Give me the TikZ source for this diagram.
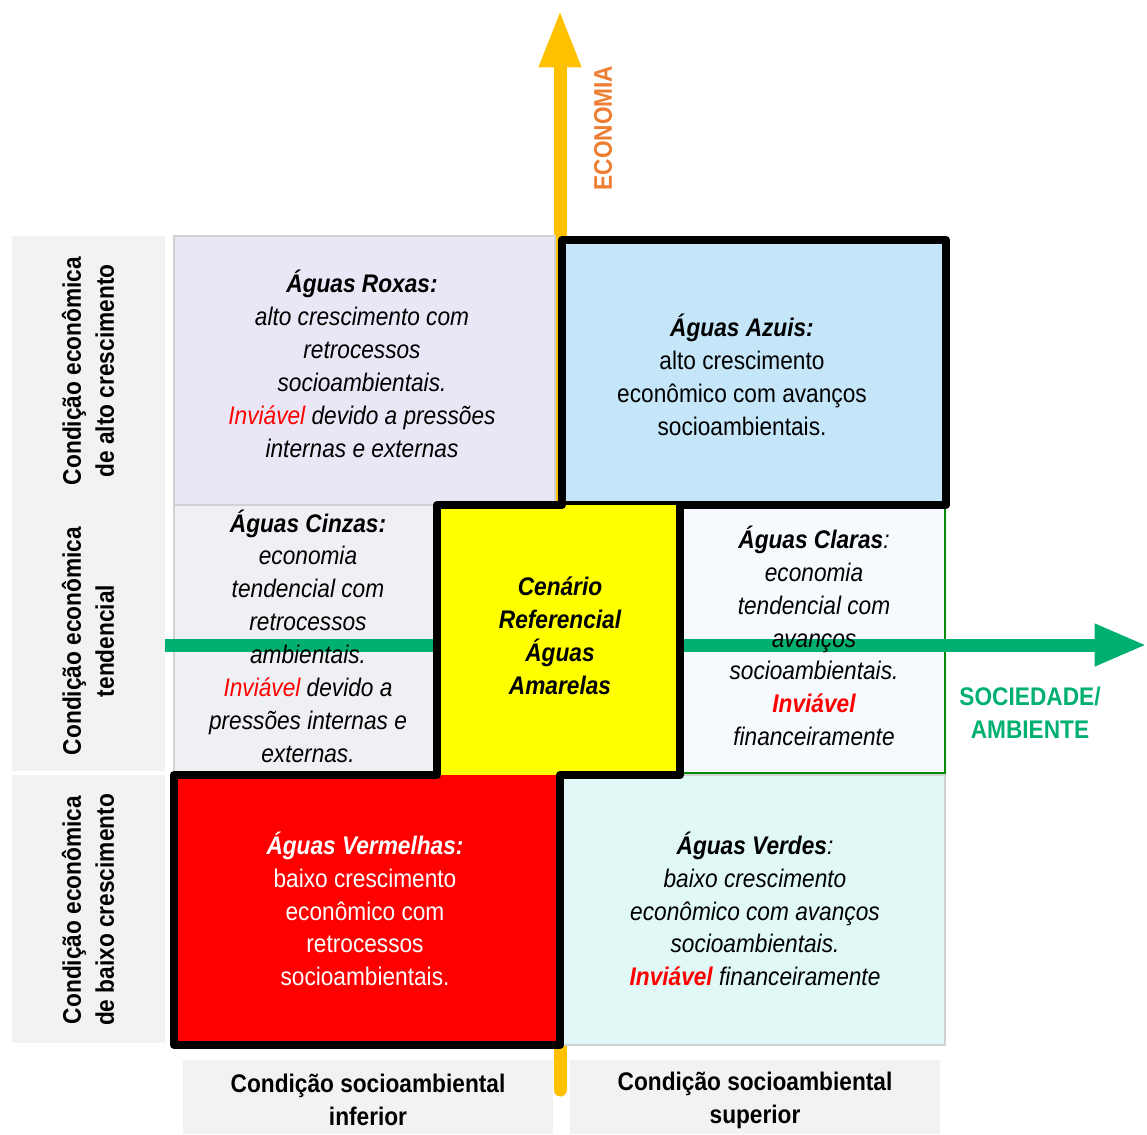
\documentclass[tikz,border=0pt]{standalone}
\usepackage{fontspec}
\setmainfont{Liberation Sans}[FakeStretch=0.89]
\usetikzlibrary{arrows.meta,fit}
\definecolor{roxa}{HTML}{EBE6F5}
\definecolor{azul}{HTML}{C5E6F9}
\definecolor{cinza}{HTML}{EFF0F3}
\definecolor{clara}{HTML}{F6F9FD}
\definecolor{verde}{HTML}{E0F8F6}
\definecolor{amarela}{RGB}{255,255,0}
\definecolor{vermelha}{RGB}{255,0,0}
\definecolor{rotulo}{HTML}{F2F2F2}
\definecolor{eixoeco}{HTML}{FFC000}
\definecolor{textoeco}{HTML}{ED7D31}
\definecolor{eixosoc}{HTML}{00B070}
\tikzset{
  cell/.style  ={rectangle, inner sep=0pt, outer sep=0pt, draw=gray!35, line width=0.6pt},
  lbl/.style   ={rectangle, inner sep=0pt, outer sep=0pt, fill=rotulo},
  txt/.style   ={align=center, inner sep=0pt},
  frame/.style ={line width=0.16cm, line join=round, line cap=round},
  ecoaxis/.style ={draw=eixoeco, line width=0.26cm, line cap=round, -{Triangle[length=1.15cm, width=0.78cm]}},
  socaxis/.style ={draw=eixosoc, line width=0.26cm, -{Triangle[length=1.05cm, width=0.78cm]}},
}

\begin{document}
\fontsize{14.5}{18.7}\selectfont
\begin{tikzpicture}[x=0.02cm, y=-0.02cm]
  \useasboundingbox (0,0) rectangle (1147,1134);

  % rotulos laterais e inferiores
  \node[lbl, fit={(12,236) (165,505)}] (alto) {};
  \node[lbl, fit={(12,505) (165,771)}] (tend) {};
  \node[lbl, fit={(12,775) (165,1043)}] (baixo) {};
  \node[lbl, fit={(183,1060) (553,1134)}] (inf) {};
  \node[lbl, fit={(570,1060) (940,1134)}] (sup) {};

  % eixo economia (fica por baixo dos quadrantes)
  \coordinate (eco base) at (560,1090);
  \coordinate (eco tip) at (560,10);
  \draw[ecoaxis] (eco base) -- (eco tip);

  % quadrantes
  \node[cell, fill=roxa, fit={(174,236) (555,505)}] (roxas) {};
  \node[cell, fill=cinza, fit={(174,505) (437,773)}] (cinzas) {};
  \node[cell, fill=clara, draw=green!55!black, fit={(680,505) (945,773)}] (claras) {};
  \node[cell, fill=verde, fit={(560,775) (945,1045)}] (verdes) {};
  \node[cell, fill=azul, draw=black, frame, fit={(562,240) (946,505)}] (azuis) {};
  \node[cell, fill=vermelha, draw=none, fit={(174,775) (560,1045)}] (vermelhas) {};

  % eixo sociedade/ambiente
  \coordinate (soc base) at (165,645);
  \coordinate (soc tip) at (1147,645);
  \draw[socaxis] (soc base) -- (soc tip);

  \node[cell, fill=amarela, draw=none, fit={(437,505) (680,775)}] (amarelas) {};

  % contorno em escada
  \draw[frame] (azuis.south west) -- (amarelas.north west) -- (amarelas.south west)
    -- (vermelhas.north west) -- (vermelhas.south west) -- (vermelhas.south east)
    -- (vermelhas.north east) -- (amarelas.south east) -- (amarelas.north east);

  % textos dos quadrantes
  \node[txt] (roxas txt) at (362,364)
    {\itshape{\bfseries Águas Roxas:}\\ \itshape alto crescimento com\\ \itshape retrocessos\\ \itshape socioambientais.\\
     \itshape{\color{vermelha}Inviável} devido a pressões\\ \itshape internas e externas};
  \node[txt] (azuis txt) at (742,375)
    {{\bfseries\itshape Águas Azuis:}\\ alto crescimento\\ econômico com avanços\\ socioambientais.};
  \node[txt] (cinzas txt) at (308,636)
    {\itshape{\bfseries Águas Cinzas:}\\ \itshape economia\\ \itshape tendencial com\\ \itshape retrocessos\\ \itshape ambientais.\\
     \itshape{\color{vermelha}Inviável} devido a\\ \itshape pressões internas e\\ \itshape externas.};
  \node[txt] (amarelas txt) at (560,636)
    {\bfseries\itshape Cenário\\ \bfseries\itshape Referencial\\ \bfseries\itshape Águas\\ \bfseries\itshape Amarelas};
  \node[txt] (claras txt) at (814,636)
    {\itshape{\bfseries Águas Claras}:\\ \itshape economia\\ \itshape tendencial com\\ \itshape avanços\\ \itshape socioambientais.\\
     {\bfseries\itshape\color{vermelha}Inviável}\\ \itshape financeiramente};
  \node[txt, text=white] (vermelhas txt) at (365,909)
    {{\bfseries\itshape Águas Vermelhas:}\\ baixo crescimento\\ econômico com\\ retrocessos\\ socioambientais.};
  \node[txt] (verdes txt) at (755,909)
    {\itshape{\bfseries Águas Verdes}:\\ \itshape baixo crescimento\\ \itshape econômico com avanços\\ \itshape socioambientais.\\
     {\bfseries\itshape\color{vermelha}Inviável} \itshape financeiramente};

  % textos dos rotulos
  \node[txt, rotate=90] (alto txt) at (88,371) {\bfseries Condição econômica\\ \bfseries de alto crescimento};
  \node[txt, rotate=90] (tend txt) at (88,641) {\bfseries Condição econômica\\ \bfseries tendencial};
  \node[txt, rotate=90] (baixo txt) at (88,910) {\bfseries Condição econômica\\ \bfseries de baixo crescimento};
  \node[txt] (inf txt) at (368,1100) {\bfseries Condição socioambiental\\ \bfseries inferior};
  \node[txt] (sup txt) at (755,1100) {\bfseries Condição socioambiental\\ \bfseries superior};

  % nomes dos eixos
  \node[txt, text=textoeco, rotate=90] (eco txt) at (603,128) {\bfseries ECONOMIA};
  \node[txt, text=eixosoc] (soc txt) at (1030,713) {\bfseries SOCIEDADE/\\ \bfseries AMBIENTE};
\end{tikzpicture}
\end{document}
